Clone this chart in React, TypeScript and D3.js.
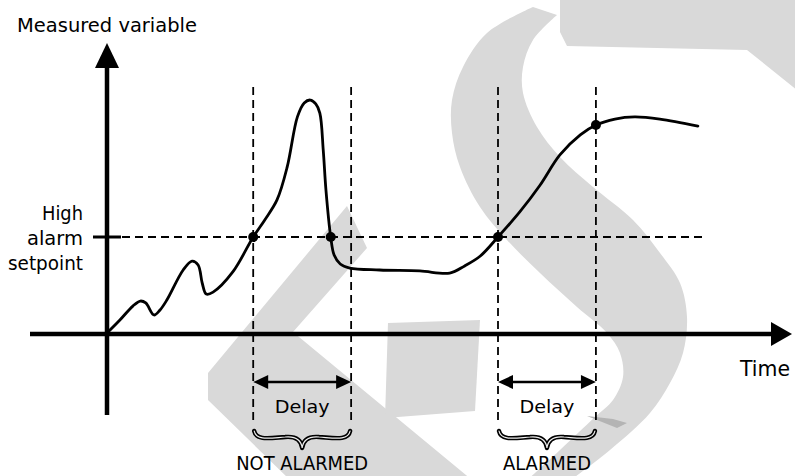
import React from "react";
import * as d3 from "d3";

// ---- Data ----
const timeValues = [0, 1.9, 3.8, 4.9, 5.7, 6.9, 7.8, 8.8, 11.2, 12.5, 13.4, 14.0, 14.6, 15.6, 18.5, 21.5, 23.2, 25.0, 26.5, 28.0, 29.0, 29.9, 30.7, 31.3, 31.8, 32.2, 32.9, 33.4, 34.3, 35.7, 40.1, 46.0, 50.4, 52.6, 54.9, 57.5, 60.7, 63.7, 66.6, 69.6, 71.9, 74.7, 77.6, 81.3, 86.9];
const measuredValues = [0.5, 7.2, 14.4, 17.0, 16.0, 9.8, 12.4, 17.5, 33.0, 37.6, 35.6, 26.3, 20.6, 21.6, 32.0, 50, 58.8, 69.1, 86.1, 111.9, 119.1, 120.6, 118.6, 113.9, 94.8, 74.2, 50, 40.7, 36.1, 34.0, 33.0, 32.5, 31.4, 35.1, 40.2, 50, 62.9, 76.8, 92.3, 102.6, 107.7, 110.8, 111.9, 110.8, 107.2];
const setpoint = 50;
const setpointEnd = 87.5;
const eventStarts = [21.5, 57.5];
const delay = 14.4;
const eventLabels = ["NOT ALARMED", "ALARMED"];
const dotTimes = [21.5, 32.9, 57.5, 71.9];
const dotValues = [50, 50, 50, 107.7];

// watermark decoration shapes
const wmChevron: [number, number][] = [[347, 206], [367, 248], [293, 332], [472, 480], [290, 480], [208, 400], [208, 373]];
const wmRect: [number, number][] = [[388, 323], [480, 320], [475, 411], [385, 418]];
const wmTop: [number, number][] = [[560, -2], [797, -2], [797, 90], [747, 50], [567, 46], [560, 32]];
const wmDark: [number, number][] = [[587, 416], [613, 419], [627, 423], [617, 428]];
const wmEdgeA: [number, number][] = [[533, 7], [487, 33], [463, 67], [452, 100], [452, 133], [460, 167], [480, 207], [507, 240], [540, 273], [577, 307], [607, 333], [620, 353], [623, 377], [613, 400], [595, 417], [560, 450], [525, 482]];
const wmEdgeB: [number, number][] = [[557, 15], [533, 40], [523, 67], [523, 93], [537, 127], [560, 157], [593, 187], [633, 220], [660, 253], [680, 283], [687, 317], [683, 353], [670, 383], [650, 413], [610, 450], [568, 482]];

const W = 795, H = 476;
const FONT = "'DejaVu Sans', sans-serif";

export default function App() {
  const x = d3.scaleLinear().domain([0, 100]).range([107, 787]);
  const y = d3.scaleLinear().domain([0, 100]).range([334, 140]);

  const pts = timeValues.map((t, i) => [t, measuredValues[i]] as [number, number]);
  const curve = d3
    .line<[number, number]>()
    .x((d) => x(d[0]))
    .y((d) => y(d[1]))
    .curve(d3.curveCatmullRom.alpha(0.5))(pts) as string;

  const poly = (p: [number, number][]) => d3.line().curve(d3.curveLinear)(p) + "Z";
  const smooth = d3.line().curve(d3.curveCatmullRom.alpha(0.5));
  const sPath =
    (smooth(wmEdgeA) as string) +
    "L" +
    (smooth(wmEdgeB.slice().reverse()) as string).slice(1) +
    "Z";

  const x0 = x(0);
  const y0 = y(0);
  const ySp = y(setpoint);
  const axisW = 4.5;
  const dash = "8,5";

  const vLineTop = 87;
  const vLineBottom = 422;
  const arrowY = 382;

  const brace = (cx: number, hw: number) =>
    `M${cx - hw + 1},431 C${cx - hw + 3},441 ${cx - 32},438 ${cx - 17},437 C${cx - 6},436 ${cx - 1},440 ${cx},448 C${cx + 1},440 ${cx + 6},436 ${cx + 17},437 C${cx + 32},438 ${cx + hw - 3},441 ${cx + hw - 1},431`;

  return (
    <svg
      width={W}
      height={H}
      viewBox={`0 0 ${W} ${H}`}
      style={{ position: "absolute", left: 0, top: 0, display: "block" }}
    >
      <rect x={0} y={0} width={W} height={H} fill="#fff" />
      {/* watermark */}
      <g fill="#d9d9d9" stroke="none">
        <path d={poly(wmChevron)} />
        <path d={poly(wmRect)} />
        <path d={poly(wmTop)} />
        <path d={sPath} />
        <path d={poly(wmDark)} fill="#b4b4b4" />
      </g>

      {/* y axis */}
      <line x1={x0} y1={415} x2={x0} y2={62} stroke="#000" strokeWidth={axisW} />
      <path d={`M${x0},43 L${x0 - 12},68 L${x0 + 12},68 Z`} fill="#000" />
      {/* x axis */}
      <line x1={30} y1={y0} x2={775} y2={y0} stroke="#000" strokeWidth={axisW} />
      <path d={`M792,${y0} L771,${y0 - 12} L771,${y0 + 12} Z`} fill="#000" />

      {/* setpoint tick and dashed line */}
      <line x1={93} y1={ySp} x2={121} y2={ySp} stroke="#000" strokeWidth={3} />
      <line x1={122} y1={ySp} x2={x(setpointEnd)} y2={ySp} stroke="#000" strokeWidth={2} strokeDasharray={dash} />

      {/* vertical dashed lines */}
      {eventStarts.map((s, i) => (
        <g key={"v" + i}>
          <line x1={x(s)} y1={vLineTop} x2={x(s)} y2={vLineBottom} stroke="#000" strokeWidth={1.8} strokeDasharray={dash} />
          <line x1={x(s + delay)} y1={vLineTop} x2={x(s + delay)} y2={vLineBottom} stroke="#000" strokeWidth={1.8} strokeDasharray={dash} />
        </g>
      ))}

      {/* measured curve */}
      <path d={curve} fill="none" stroke="#000" strokeWidth={2.8} strokeLinejoin="round" strokeLinecap="round" />

      {/* dots */}
      {dotTimes.map((t, i) => (
        <circle key={"d" + i} cx={x(t)} cy={y(dotValues[i])} r={5} fill="#000" />
      ))}

      {/* delay arrows, braces and labels */}
      {eventStarts.map((s, i) => {
        const a = x(s);
        const b = x(s + delay);
        const cx = (a + b) / 2;
        return (
          <g key={"e" + i}>
            <line x1={a + 10} y1={arrowY} x2={b - 10} y2={arrowY} stroke="#000" strokeWidth={2.5} />
            <path d={`M${a},${arrowY} L${a + 15},${arrowY - 7} L${a + 15},${arrowY + 7} Z`} fill="#000" />
            <path d={`M${b},${arrowY} L${b - 15},${arrowY - 7} L${b - 15},${arrowY + 7} Z`} fill="#000" />
            <text x={cx} y={413} textAnchor="middle" fontFamily={FONT} fontSize={17} textLength={55} lengthAdjust="spacingAndGlyphs">
              Delay
            </text>
            <path d={brace(cx, b - cx)} fill="none" stroke="#000" strokeWidth={4.4} strokeLinecap="round" strokeLinejoin="round" />
            <path d={brace(cx, b - cx)} fill="none" stroke="#eeeeee" strokeWidth={1.2} strokeLinecap="round" />
            <text
              x={cx}
              y={470}
              textAnchor="middle"
              fontFamily={FONT}
              fontSize={20}
              textLength={i === 0 ? 132 : 88}
              lengthAdjust="spacingAndGlyphs"
            >
              {eventLabels[i]}
            </text>
          </g>
        );
      })}

      {/* labels */}
      <text x={17} y={32} fontFamily={FONT} fontSize={19} textLength={180} lengthAdjust="spacingAndGlyphs">
        Measured variable
      </text>
      <text x={83} y={220} textAnchor="end" fontFamily={FONT} fontSize={20} textLength={41} lengthAdjust="spacingAndGlyphs">
        High
      </text>
      <text x={83} y={245} textAnchor="end" fontFamily={FONT} fontSize={20} textLength={56} lengthAdjust="spacingAndGlyphs">
        alarm
      </text>
      <text x={83} y={270} textAnchor="end" fontFamily={FONT} fontSize={20} textLength={75} lengthAdjust="spacingAndGlyphs">
        setpoint
      </text>
      <text x={740} y={376} fontFamily={FONT} fontSize={22} textLength={50} lengthAdjust="spacingAndGlyphs">
        Time
      </text>
    </svg>
  );
}
